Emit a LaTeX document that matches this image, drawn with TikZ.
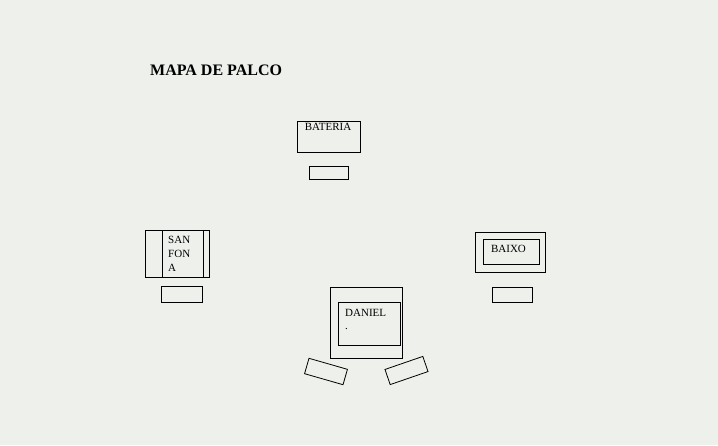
\documentclass[tikz,border=0pt]{standalone}
\usepackage{fontspec}
\setmainfont{Liberation Serif}
\usepackage{xcolor}
\usepackage{tikz}
\usetikzlibrary{positioning}

\definecolor{paper}{RGB}{238,240,236}

\begin{document}
\begin{tikzpicture}[
    x=1pt, y=-1pt,
    font=\fontsize{11}{14}\selectfont,
    box/.style={
        draw,
        line width=0.8pt,
        inner sep=0pt,
        minimum width=#1
    },
    monitor/.style={
        draw,
        line width=0.8pt,
        inner sep=0pt,
        minimum width=40pt,
        minimum height=15pt
    },
    tag/.style={inner sep=0pt, align=left}
]

\fill[paper] (0,0) rectangle (718,445);
\useasboundingbox (0,0) rectangle (718,445);

\node[anchor=base west, inner sep=0pt, font=\fontsize{16}{18}\selectfont\bfseries] (title) at (150,75.5) {MAPA DE PALCO};

% bateria
\node[box=63pt, minimum height=31pt] (bateria) at (328.5,136.5) {};
\node[tag, anchor=base] (bateriatxt) at (328,130.5) {BATERIA};
\node[monitor, minimum width=39pt, minimum height=13pt] (batmon) at (328.5,172.5) {};

% sanfona
\node[box=64pt, minimum height=47pt] (sanfona) at (177,253.5) {};
\node[box=41pt, minimum height=47pt] (sanfonain) at (182.5,253.5) {};
\node[tag, anchor=north west] (sanfonatxt) at (168,236.5) {SAN\\FON\\A};
\node[monitor, minimum width=41pt, minimum height=16pt] (sanmon) at (181.5,294) {};

% baixo
\node[box=70pt, minimum height=40pt] (baixo) at (510,252) {};
\node[box=56pt, minimum height=25pt] (baixoin) at (511,251.5) {};
\node[tag, anchor=base] (baixotxt) at (508.5,252.5) {BAIXO};
\node[monitor] (baixomon) at (512,294.5) {};

% daniel
\node[box=72pt, minimum height=71pt] (daniel) at (366,322.5) {};
\node[box=62pt, minimum height=43pt] (danielin) at (369,323.5) {};
\node[tag, anchor=base west] (danieltxt) at (345,316) {DANIEL};
\node[tag, anchor=base west] (danieldot) at (345,329) {.};
\node[monitor, minimum height=16pt, rotate=-16] (wedgel) at (326,371.5) {};
\node[monitor, minimum height=16pt, rotate=19] (wedger) at (406.5,370.5) {};

\end{tikzpicture}
\end{document}
